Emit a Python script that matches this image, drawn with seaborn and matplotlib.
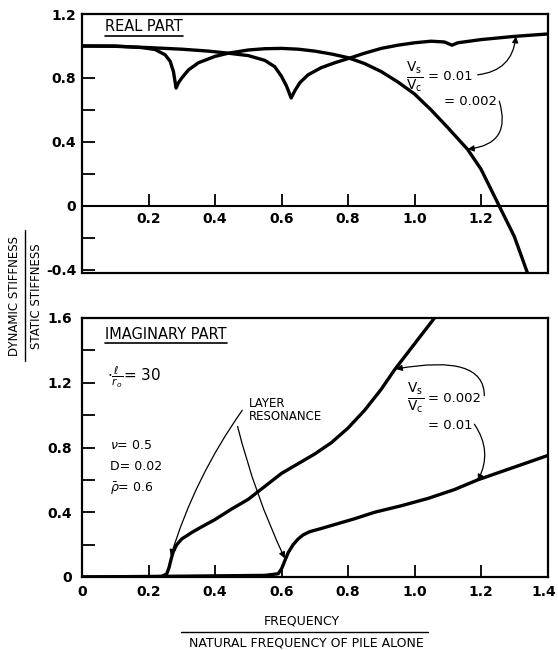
import numpy as np
import pandas as pd
import matplotlib
matplotlib.use("Agg")
import matplotlib.pyplot as plt
from matplotlib.lines import Line2D
import matplotlib.transforms as mtransforms
import seaborn as sns

# ---------------- data ----------------
# Real part, Vs/Vc = 0.002
real_x_002 = [0.0, 0.10, 0.18, 0.22, 0.25, 0.265, 0.275, 0.283, 0.29, 0.30, 0.32, 0.35,
              0.40, 0.44, 0.50, 0.55, 0.60, 0.65, 0.70, 0.75, 0.80, 0.85, 0.90, 0.95,
              1.00, 1.05, 1.10, 1.16, 1.20, 1.25, 1.30, 1.34]
real_y_002 = [1.0, 1.0, 0.99, 0.978, 0.945, 0.905, 0.84, 0.737, 0.77, 0.80, 0.85, 0.895,
              0.935, 0.955, 0.975, 0.983, 0.985, 0.98, 0.968, 0.95, 0.927, 0.89, 0.84, 0.775,
              0.70, 0.60, 0.49, 0.353, 0.23, 0.02, -0.19, -0.42]
# Real part, Vs/Vc = 0.01
real_x_001 = [0.0, 0.10, 0.20, 0.30, 0.38, 0.44, 0.50, 0.55, 0.58, 0.60, 0.615, 0.629,
              0.64, 0.655, 0.68, 0.72, 0.76, 0.806, 0.85, 0.90, 0.95, 1.00, 1.05, 1.09,
              1.113, 1.13, 1.20, 1.30, 1.40]
real_y_001 = [1.0, 0.998, 0.99, 0.98, 0.968, 0.955, 0.94, 0.91, 0.87, 0.81, 0.75, 0.675,
              0.72, 0.77, 0.82, 0.865, 0.895, 0.925, 0.955, 0.985, 1.005, 1.02, 1.03, 1.025,
              1.005, 1.02, 1.04, 1.06, 1.075]
# Imaginary part, Vs/Vc = 0.002
imag_x_002 = [0.0, 0.20, 0.24, 0.255, 0.262, 0.268, 0.275, 0.285, 0.30, 0.33, 0.36, 0.40,
              0.45, 0.50, 0.55, 0.60, 0.65, 0.70, 0.75, 0.80, 0.85, 0.90, 0.94, 1.00, 1.06]
imag_y_002 = [0.0, 0.0, 0.003, 0.02, 0.06, 0.11, 0.16, 0.20, 0.235, 0.275, 0.31, 0.355,
              0.42, 0.48, 0.56, 0.64, 0.70, 0.76, 0.83, 0.92, 1.03, 1.16, 1.28, 1.44, 1.60]
# Imaginary part, Vs/Vc = 0.01
imag_x_001 = [0.0, 0.30, 0.55, 0.59, 0.60, 0.61, 0.62, 0.635, 0.65, 0.665, 0.685, 0.72,
              0.77, 0.82, 0.88, 0.96, 1.04, 1.12, 1.19, 1.26, 1.33, 1.40]
imag_y_001 = [0.0, 0.005, 0.01, 0.02, 0.05, 0.10, 0.15, 0.20, 0.235, 0.26, 0.28, 0.30,
              0.33, 0.36, 0.40, 0.44, 0.485, 0.54, 0.60, 0.65, 0.70, 0.75]

top_xticks = [0.2, 0.4, 0.6, 0.8, 1.0, 1.2]
top_xticklabels = ["0.2", "0.4", "0.6", "0.8", "1.0", "1.2"]
top_yticks = [1.2, 0.8, 0.4, 0.0, -0.4]
top_yticklabels = ["1.2", "0.8", "0.4", "0", "-0.4"]
top_yminor = [1.0, 0.6, 0.2, -0.2]
bot_xticks = [0.0, 0.2, 0.4, 0.6, 0.8, 1.0, 1.2, 1.4]
bot_xticklabels = ["0", "0.2", "0.4", "0.6", "0.8", "1.0", "1.2", "1.4"]
bot_yticks = [0.0, 0.4, 0.8, 1.2, 1.6]
bot_yticklabels = ["0", "0.4", "0.8", "1.2", "1.6"]
bot_yminor = [0.2, 0.6, 1.0, 1.4]

# ---------------- styling ----------------
sns.set_theme(style="white")
plt.rcParams['font.family'] = ['DejaVu Sans']
plt.rcParams['axes.unicode_minus'] = False
plt.rcParams['mathtext.fontset'] = 'dejavusans'
plt.rcParams['text.color'] = 'black'
plt.rcParams['xtick.color'] = 'black'
plt.rcParams['ytick.color'] = 'black'

W, H = 558, 650
fig = plt.figure(figsize=(W / 100, H / 100), dpi=100)
fig.patch.set_facecolor('white')


def rect(l, t, r, b):
    return [l / W, 1 - b / H, (r - l) / W, (b - t) / H]


ax1 = fig.add_axes(rect(82, 14, 547.5, 272.5))
ax2 = fig.add_axes(rect(82, 318, 547.5, 577))

df_real = pd.concat([
    pd.DataFrame({"freq": real_x_002, "val": real_y_002, "ratio": "0.002"}),
    pd.DataFrame({"freq": real_x_001, "val": real_y_001, "ratio": "0.01"}),
])
df_imag = pd.concat([
    pd.DataFrame({"freq": imag_x_002, "val": imag_y_002, "ratio": "0.002"}),
    pd.DataFrame({"freq": imag_x_001, "val": imag_y_001, "ratio": "0.01"}),
])
pal = {"0.002": "black", "0.01": "black"}
for ax, df in ((ax1, df_real), (ax2, df_imag)):
    sns.lineplot(data=df, x="freq", y="val", hue="ratio", palette=pal, sort=False,
                 estimator=None, lw=2.4, legend=False, ax=ax)
    ax.set_xlabel("")
    ax.set_ylabel("")
    ax.set_facecolor('white')
    for s in ax.spines.values():
        s.set_color('black')
        s.set_linewidth(1.6)

tick_font = dict(fontsize=10, fontweight='bold')

# ---- top panel axes ----
ax1.set_xlim(0, 1.4)
ax1.set_ylim(-0.416, 1.2)
ax1.spines['bottom'].set_position(('data', 0))
ax1.spines['bottom'].set_linewidth(1.5)
ax1.plot([0, 1], [0, 0], transform=ax1.transAxes, color='black', lw=1.6, clip_on=False)
ax1.set_xticks(top_xticks, top_xticklabels, **tick_font)
ax1.set_yticks(top_yticks, top_yticklabels, **tick_font)
ax1.set_yticks(top_yminor, minor=True)
ax1.tick_params(axis='x', direction='in', length=9, width=1.3, pad=4,
                bottom=True, top=False, colors='black')
ax1.tick_params(axis='y', which='both', direction='in', length=9, width=1.3, pad=4,
                left=True, right=False, colors='black')

# ---- bottom panel axes ----
ax2.set_xlim(0, 1.4)
ax2.set_ylim(0, 1.6)
ax2.set_xticks(bot_xticks, bot_xticklabels, **tick_font)
ax2.set_yticks(bot_yticks, bot_yticklabels, **tick_font)
ax2.set_yticks(bot_yminor, minor=True)
ax2.tick_params(axis='x', direction='in', length=9, width=1.3, pad=6,
                bottom=True, top=False, colors='black')
ax2.tick_params(axis='y', which='both', direction='in', length=9, width=1.3, pad=7,
                left=True, right=False, colors='black')
# nudge the last x label ("1.4") a little left so it stays inside the figure
last = ax2.get_xticklabels()[-1]
last.set_transform(last.get_transform() +
                   mtransforms.ScaledTranslation(-4 / 100, 0, fig.dpi_scale_trans))

# ---------------- annotations ----------------
arrow_kw = dict(arrowstyle='-|>', lw=0.9, color='black', shrinkA=0, shrinkB=0,
                mutation_scale=9)
frac = r"$\frac{\mathrm{V}_\mathrm{s}}{\mathrm{V}_\mathrm{c}}$"

t_real = ax1.text(0.069, 1.12, "REAL PART", ha='left', va='center', fontsize=10.5)
ax1.text(1.0, 0.81, frac, ha='center', va='center', fontsize=14)
ax1.text(1.04, 0.81, "= 0.01", ha='left', va='center', fontsize=9.5)
ax1.text(1.09, 0.655, "= 0.002", ha='left', va='center', fontsize=9.5)
ax1.annotate("", xy=(1.305, 1.06), xytext=(1.19, 0.82),
             arrowprops=dict(connectionstyle='arc3,rad=0.4', **arrow_kw))
ax1.annotate("", xy=(1.16, 0.355), xytext=(1.255, 0.655),
             arrowprops=dict(connectionstyle='arc3,rad=-0.6', **arrow_kw))

t_imag = ax2.text(0.07, 1.5, "IMAGINARY PART", ha='left', va='center', fontsize=10.5)
ax2.text(0.075, 1.236, r"$\cdot\frac{\ell}{r_o}$= 30", ha='left', va='center', fontsize=11)
ax2.text(0.085, 0.81, r"$\nu$= 0.5", ha='left', va='center', fontsize=9)
ax2.text(0.085, 0.68, "D= 0.02", ha='left', va='center', fontsize=9)
ax2.text(0.085, 0.545, r"$\bar{\rho}$= 0.6", ha='left', va='center', fontsize=9)
ax2.text(0.503, 1.03, "LAYER\nRESONANCE", ha='left', va='center', fontsize=8.5,
         linespacing=1.0)
ax2.annotate("", xy=(0.267, 0.13), xytext=(0.482, 1.03),
             arrowprops=dict(connectionstyle='arc3,rad=0.08', **arrow_kw))
ax2.annotate("", xy=(0.61, 0.115), xytext=(0.468, 0.93),
             arrowprops=dict(connectionstyle='arc3,rad=0.05', **arrow_kw))
ax2.text(1.003, 1.108, frac, ha='center', va='center', fontsize=14)
ax2.text(1.04, 1.104, "= 0.002", ha='left', va='center', fontsize=9.5)
ax2.text(1.04, 0.933, "= 0.01", ha='left', va='center', fontsize=9.5)
ax2.annotate("", xy=(0.944, 1.285), xytext=(1.21, 1.12),
             arrowprops=dict(connectionstyle='angle3,angleA=90,angleB=10', **arrow_kw))
ax2.annotate("", xy=(1.19, 0.595), xytext=(1.18, 0.944),
             arrowprops=dict(connectionstyle='arc3,rad=-0.3', **arrow_kw))

# axis titles as fractions
fig.text(15 / W, 1 - 296 / H, "DYNAMIC STIFFNESS", rotation=90, ha='center', va='center',
         fontsize=8.5)
fig.text(37 / W, 1 - 296 / H, "STATIC STIFFNESS", rotation=90, ha='center', va='center',
         fontsize=8.5)
fig.add_artist(Line2D([25 / W, 25 / W], [1 - 230 / H, 1 - 361 / H], color='black', lw=1.0,
                      transform=fig.transFigure))
fig.text(302 / W, 1 - 621.5 / H, "FREQUENCY", ha='center', va='center', fontsize=9)
fig.add_artist(Line2D([181 / W, 428 / W], [1 - 631.5 / H, 1 - 631.5 / H], color='black',
                      lw=1.0, transform=fig.transFigure))
fig.text(306 / W, 1 - 643 / H, "NATURAL FREQUENCY OF PILE ALONE", ha='center', va='center',
         fontsize=9)

# underline the panel titles
fig.canvas.draw()
for t in (t_real, t_imag):
    bb = t.get_window_extent()
    y = bb.y0 - 1.5
    fig.add_artist(Line2D([bb.x0 / W, bb.x1 / W], [y / H, y / H], color='black',
                          lw=1.2, transform=fig.transFigure))

fig.savefig("out.png", dpi=100, facecolor='white')
